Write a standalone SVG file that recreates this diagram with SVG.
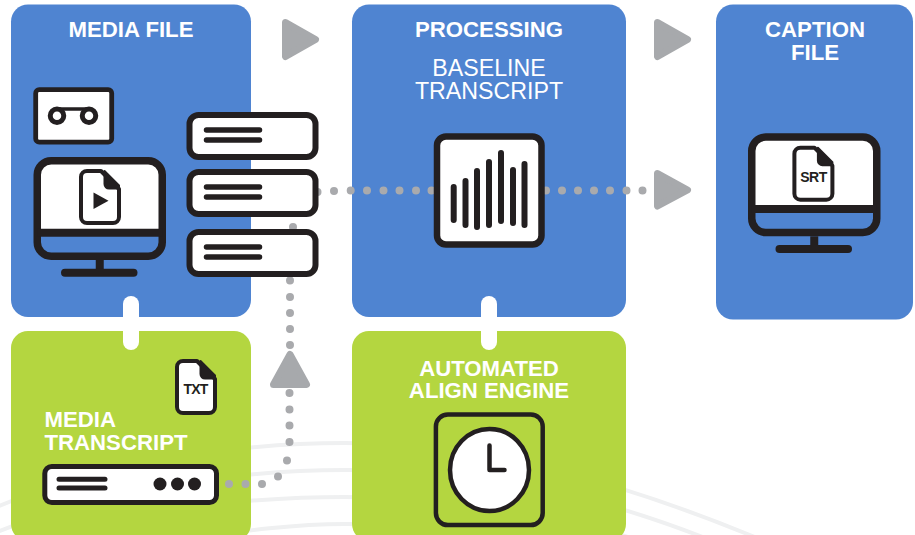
<svg xmlns="http://www.w3.org/2000/svg" xmlns:xlink="http://www.w3.org/1999/xlink" width="915" height="535" viewBox="0 0 915 535">
<style>
text{font-family:"Liberation Sans",Arial,sans-serif;font-size:22.200px;font-weight:700;fill:#fff;text-anchor:middle}
.reg{font-weight:400;font-size:23.200px}
.ic{fill:#231f20;font-size:14px;letter-spacing:-.8px;stroke:none}
.blue{fill:#4f84d1}.green{fill:#b4d640}
.k{fill:none;stroke:#231f20;stroke-linecap:round;stroke-linejoin:round}
.b{fill:none;stroke:#231f20;stroke-linecap:butt}
.kw{fill:#fff;stroke:#231f20;stroke-linejoin:round}
.arc{fill:none;stroke:#eff0f1;stroke-width:4}
.dots{fill:none;stroke:#a9aaad;stroke-width:8;stroke-linecap:round}
.arrow{fill:#a7a9ac;stroke:#a7a9ac;stroke-width:7;stroke-linejoin:round}
.link{fill:#fff}
</style>
<defs>
<g id="monitor">
<path d="M3.750 72V15A11 11 0 0 1 14.750 3.750H117.750A11 11 0 0 1 128.750 15V72Z" fill="#fff"/>
<rect x="3.750" y="3.750" width="125" height="95.500" rx="14" class="k" stroke-width="7.500"/>
<path d="M3.750 75.700H128.750" class="b" stroke-width="8"/>
<path d="M66.250 103V112" class="b" stroke-width="8"/>
<path d="M31.500 115.700H100" class="k" stroke-width="8"/>
</g>
<g id="file">
<path d="M8 2H22L40 20V48A6 6 0 0 1 34 54H8A6 6 0 0 1 2 48V8A6 6 0 0 1 8 2Z" class="kw" stroke-width="4"/>
<path d="M25.500 2L40 16.500V19.500H30A4.500 4.500 0 0 1 25.500 15Z" fill="#231f20" stroke="#231f20" stroke-width="2" stroke-linejoin="round"/>
</g>
<g id="row">
<rect x="3" y="3" width="126" height="42" rx="9" class="kw" stroke-width="6"/>
<path d="M20 18H73M20 28H73" class="k" stroke-width="5.500"/>
</g>
</defs>
<rect width="915" height="535" fill="#fff"/>
<g id="background-arcs">
<path class="arc" d="M-15 512C90 465 230 443 345 443C480 444 620 478 790 552"/>
<path class="arc" d="M-15 537C90 492 230 470 345 470C480 471 590 490 730 548"/>
<path class="arc" d="M90 520C160 508 260 497 345 497C440 497 560 510 650 545"/>
<path class="arc" d="M190 540C240 530 300 524 345 524C400 524 460 527 500 540"/>
</g>
<g id="media-file">
<rect class="blue" x="11" y="4.500" width="240" height="312.500" rx="17"/>
<text x="131" y="36.700">MEDIA FILE</text>
</g>
<g id="processing">
<rect class="blue" x="352" y="4.500" width="274" height="312.500" rx="17"/>
<text x="489" y="36.700">PROCESSING</text>
<text class="reg" x="489" y="76">BASELINE</text>
<text class="reg" x="489" y="99">TRANSCRIPT</text>
</g>
<g id="caption-file">
<rect class="blue" x="716" y="4.500" width="197" height="315" rx="17"/>
<text x="815" y="36.700">CAPTION</text>
<text x="815" y="59.700">FILE</text>
<use xlink:href="#monitor" href="#monitor" transform="translate(748 133.300)"/>
<use xlink:href="#file" href="#file" transform="translate(792.400 145.700)"/>
<text class="ic" x="813.500" y="181.700" style="letter-spacing:-.5px">SRT</text>
</g>
<g id="media-transcript">
<rect class="green" x="11" y="331" width="240" height="210" rx="17"/>
<text x="44.500" y="426.700" style="text-anchor:start">MEDIA</text>
<text x="44.500" y="450" style="text-anchor:start">TRANSCRIPT</text>
<use xlink:href="#file" href="#file" transform="translate(175 359)"/>
<text class="ic" x="195.500" y="394">TXT</text>
</g>
<g id="automated-align-engine">
<rect class="green" x="352" y="331" width="274" height="210" rx="17"/>
<text x="489" y="376">AUTOMATED</text>
<text x="489" y="397.500">ALIGN ENGINE</text>
</g>
<g id="connectors">
<rect class="link" x="123" y="296" width="16" height="54" rx="8"/>
<rect class="link" x="481" y="296" width="16" height="54" rx="8"/>
<path class="dots" d="M317.500 192h0M334 191h0M350.700 190.500h0M367 190.500h0M383.500 190.500h0M399.500 190.500h0M416 190.500h0M431.500 190.500h0M546 190.500h0M562 190.500h0M578 190.500h0M594 190.500h0M610 190.500h0M626.500 190.500h0M642.500 190.500h0"/>
<path class="dots" d="M229 484h0M245.500 484h0M262 484h0M278 476.500h0M287 460.500h0M289.500 442h0M289.500 425.500h0M289.500 409.500h0M289.500 393h0M290 345h0M290 329h0M290 313h0M290 297h0M290 280.500h0M293 227h0"/>
<polygon class="arrow" points="285.500,22.500 315.500,39.500 285.500,56.500"/>
<polygon class="arrow" points="657.500,22.500 687.500,39.500 657.500,56.500"/>
<polygon class="arrow" points="657.500,173.500 687.500,190 657.500,206"/>
<polygon class="arrow" points="290,354.500 306.500,384.500 273.500,384.500"/>
</g>
<g id="media-icons">
<rect x="35.700" y="89.700" width="76" height="52.500" rx="3.500" class="kw" stroke-width="4.800"/>
<path d="M57 109H89" class="k" stroke-width="3.500"/>
<circle cx="57" cy="115.700" r="6.750" class="kw" stroke-width="5"/>
<circle cx="89" cy="115.700" r="6.750" class="kw" stroke-width="5"/>
<use xlink:href="#monitor" href="#monitor" transform="translate(33.500 157)"/>
<use xlink:href="#file" href="#file" transform="translate(79 169)"/>
<path d="M93.500 192.500L108.500 200.700L93.500 209Z" fill="#231f20"/>
</g>
<g id="stacked-rows">
<use xlink:href="#row" href="#row" transform="translate(186.500 112)"/>
<use xlink:href="#row" href="#row" transform="translate(186.500 169)"/>
<use xlink:href="#row" href="#row" transform="translate(186.500 229)"/>
</g>
<g id="waveform-icon">
<rect x="437" y="136.500" width="104.500" height="108" rx="9" class="kw" stroke-width="6.500"/>
<path d="M453.700 187V220M465.500 181V225M477 171V227M489 162V225M501 153V221M513 170V223M524.500 164V225" class="k" stroke-width="6"/>
</g>
<g id="transcript-bar-icon">
<rect x="44.800" y="466.500" width="171.700" height="36" rx="7" class="kw" stroke-width="5"/>
<path d="M59 479.300H105M59 488H105" class="k" stroke-width="5"/>
<circle cx="160" cy="484" r="6.500" fill="#231f20"/>
<circle cx="177.500" cy="484" r="6.500" fill="#231f20"/>
<circle cx="194.500" cy="484" r="6.500" fill="#231f20"/>
</g>
<g id="clock-icon">
<rect x="435.900" y="414.500" width="106.800" height="110.600" rx="12" class="k" stroke-width="4.500"/>
<ellipse cx="489.500" cy="470" rx="39.500" ry="41" class="kw" stroke-width="4.500"/>
<path d="M489.500 445.500V470H504.500" class="k" stroke-width="4.500"/>
</g>
</svg>
